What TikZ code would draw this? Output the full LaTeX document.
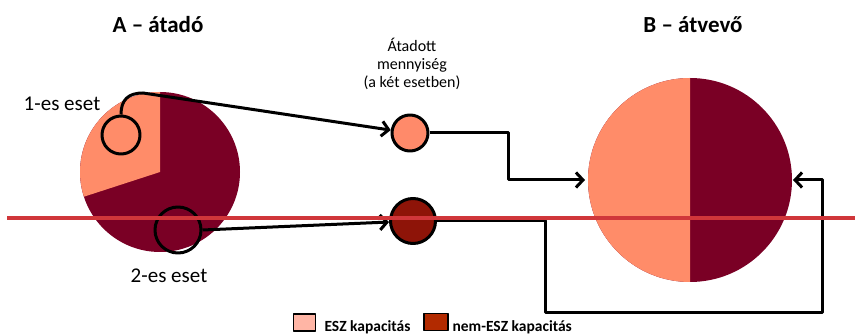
\documentclass[tikz,border=0pt]{standalone}
\usepackage{fontspec}
\setmainfont{Carlito}
\usetikzlibrary{arrows.meta}
\definecolor{lite}{HTML}{FF8C69}
\definecolor{dark}{HTML}{7A0025}
\definecolor{mlite}{HTML}{FF8A6A}
\definecolor{mdark}{HTML}{8E1408}
\definecolor{legA}{HTML}{FFB5A5}
\definecolor{legB}{HTML}{B22A00}
\definecolor{redline}{HTML}{D0363A}
\begin{document}
\begin{tikzpicture}[x=1pt,y=1pt,line join=round,
  conn/.style={line width=3pt,-{Straight Barb[length=7pt,width=15pt,line width=3pt]}},
  ring/.style={circle,draw,line width=3pt,inner sep=0pt},
  pie/.style={circle,inner sep=0pt,outer sep=0pt},
  title/.style={font=\bfseries\fontsize{23}{26}\selectfont},
  caselbl/.style={font=\fontsize{21}{24}\selectfont},
  legbox/.style={draw,line width=1.8pt,minimum width=22pt,minimum height=17pt,inner sep=0pt},
  legtxt/.style={anchor=west,font=\bfseries\fontsize{15.5}{17}\selectfont}]
\useasboundingbox (0,0) rectangle (855,-336);
% pie A
\node[pie,fill=dark,minimum size=160pt] (pieA) at (160,-172) {};
\fill[lite] (pieA.center) -- (160,-92) arc[start angle=90,end angle=198,radius=80] -- cycle;
% pie B
\node[pie,fill=dark,minimum size=204pt] (pieB) at (690,-180) {};
\fill[lite] (690,-78) arc[start angle=90,end angle=270,radius=102] -- cycle;
% small circles
\node[ring,minimum size=38pt] (c1) at (121,-135) {};
\node[ring,minimum size=46pt] (c2) at (178,-230) {};
\node[ring,fill=mlite,minimum size=36pt] (m1) at (410,-133) {};
\node[ring,fill=mdark,minimum size=45pt] (m2) at (413,-221) {};
% connectors
\draw[conn] (c1.north) .. controls (121,-100) and (128,-93) .. (143,-93) -- (m1);
\draw[conn] (c2.east) -- (m2);
\draw[conn,shorten >=3pt] (m1.east) -- ++(79,0) |- (pieB.west);
\draw[conn,shorten >=1pt] (m2.east) -- (545,-221) -- (545,-313) -- (822,-313) |- (pieB.east);
% red line
\coordinate (r0) at (7,-218.5);
\coordinate (r1) at (855,-218.5);
\draw[redline,line width=4pt] (r0) -- (r1);
% texts
\node[title] (tA) at (158,-25) {A – átadó};
\node[title] (tB) at (693,-25) {B – átvevő};
\node[caselbl] (l1) at (62,-104) {1-es eset};
\node[caselbl] (l2) at (169,-276) {2-es eset};
\node[align=center,font=\fontsize{16}{18}\selectfont] (q) at (412,-64) {Átadott\\mennyiség\\(a két esetben)};
% legend
\node[legbox,fill=legA] (k1) at (304.5,-322.5) {};
\node[legtxt] (k1t) at (321,-327) {ESZ kapacitás};
\node[legbox,fill=legB,minimum width=24pt] (k2) at (436,-322) {};
\node[legtxt] (k2t) at (449,-327) {nem-ESZ kapacitás};
\end{tikzpicture}
\end{document}
